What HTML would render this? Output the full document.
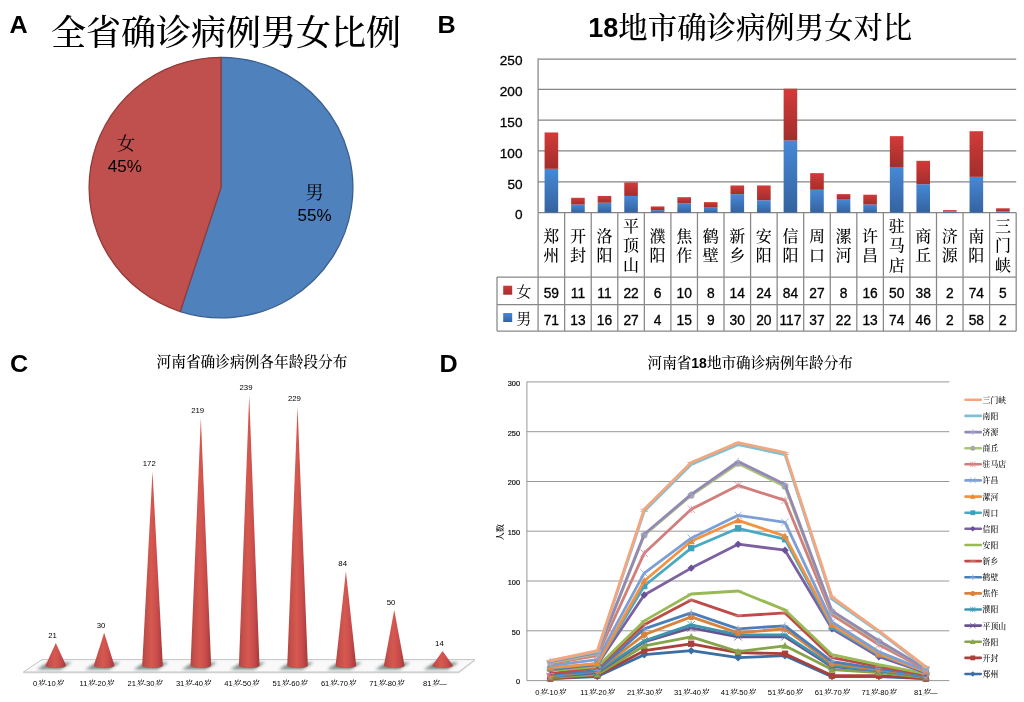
<!DOCTYPE html>
<html lang="zh"><head><meta charset="utf-8"><title>河南省确诊病例统计</title>
<style>
html,body{margin:0;padding:0;background:#fff;}
body{width:1024px;height:702px;overflow:hidden;}
svg{display:block;}
text{font-family:"Liberation Sans","Noto Serif CJK SC",serif;fill:#000;}
.ss{font-family:"Liberation Sans","Noto Sans CJK SC",sans-serif;}
.lbl{font-family:"Liberation Sans",sans-serif;font-weight:bold;font-size:23.5px;}
.num{font-family:"Liberation Sans",sans-serif;}
.tb{stroke:#000;stroke-width:0.3px;}
</style></head><body>
<svg width="1024" height="702" viewBox="0 0 1024 702">
<defs>
<linearGradient id="gB" x1="0" x2="0" y1="0" y2="1"><stop offset="0" stop-color="#4689d6"/><stop offset="1" stop-color="#35629f"/></linearGradient>
<linearGradient id="gR" x1="0" x2="0" y1="0" y2="1"><stop offset="0" stop-color="#d23b39"/><stop offset="1" stop-color="#a22e2c"/></linearGradient>
<linearGradient id="gC" x1="0" x2="1" y1="0" y2="0"><stop offset="0" stop-color="#b14441"/><stop offset="0.15" stop-color="#c24e4a"/><stop offset="0.45" stop-color="#d6594f"/><stop offset="0.72" stop-color="#c94c4c"/><stop offset="1" stop-color="#a33b3a"/></linearGradient>
<radialGradient id="gS"><stop offset="0" stop-color="#7a7a7a" stop-opacity="0.75"/><stop offset="0.6" stop-color="#9a9a9a" stop-opacity="0.45"/><stop offset="1" stop-color="#cccccc" stop-opacity="0"/></radialGradient>
<filter id="blurS" x="-30%" y="-60%" width="160%" height="220%"><feGaussianBlur stdDeviation="1.4"/></filter>
<filter id="blur1" x="-20%" y="-20%" width="140%" height="140%"><feGaussianBlur stdDeviation="0.5"/></filter>
</defs>
<rect width="1024" height="702" fill="#fff"/>

<g id="panelA">
<text class="lbl" x="9.6" y="32.6" textLength="18.2" lengthAdjust="spacingAndGlyphs">A</text>
<text x="51" y="44.5" font-size="35px" font-weight="500">全省确诊病例男女比例</text>
<path d="M221,187.6 L221,57.29999999999998 A131.9,130.3 0 1 1 180.24,311.52 Z" fill="#4f81bd" stroke="#3a5f8f" stroke-width="1.3" stroke-linejoin="round"/>
<path d="M221,187.6 L180.24,311.52 A131.9,130.3 0 0 1 221,57.29999999999998 Z" fill="#c0504d" stroke="#933b39" stroke-width="1.3" stroke-linejoin="round"/>
<text x="126" y="149.8" font-size="18.5px" text-anchor="middle">女</text>
<text class="num" x="107.8" y="171.6" font-size="16px" textLength="34" lengthAdjust="spacingAndGlyphs">45%</text>
<text x="314.6" y="198.9" font-size="18.5px" text-anchor="middle">男</text>
<text class="num" x="297.6" y="221.4" font-size="16px" textLength="34" lengthAdjust="spacingAndGlyphs">55%</text>
</g>
<g id="panelB">
<text class="lbl" x="437.6" y="33.1" textLength="18.2" lengthAdjust="spacingAndGlyphs">B</text>
<text x="750.3" y="37.9" font-size="29.4px" text-anchor="middle" font-weight="500"><tspan class="num" font-weight="bold" font-size="27px" dy="-1.2">18</tspan><tspan dy="1.2">地市</tspan>确诊病例男女对比</text>
<line x1="538.1" x2="1016.2" y1="212.6" y2="212.6" stroke="#858585" stroke-width="1.25"/>
<text class="num tb" x="522.5" y="219.4" font-size="13.6px" text-anchor="end">0</text>
<line x1="538.1" x2="1016.2" y1="181.8" y2="181.8" stroke="#858585" stroke-width="1.25"/>
<text class="num tb" x="522.5" y="188.6" font-size="13.6px" text-anchor="end">50</text>
<line x1="538.1" x2="1016.2" y1="150.9" y2="150.9" stroke="#858585" stroke-width="1.25"/>
<text class="num tb" x="522.5" y="157.8" font-size="13.6px" text-anchor="end">100</text>
<line x1="538.1" x2="1016.2" y1="120.1" y2="120.1" stroke="#858585" stroke-width="1.25"/>
<text class="num tb" x="522.5" y="126.9" font-size="13.6px" text-anchor="end">150</text>
<line x1="538.1" x2="1016.2" y1="89.3" y2="89.3" stroke="#858585" stroke-width="1.25"/>
<text class="num tb" x="522.5" y="96.1" font-size="13.6px" text-anchor="end">200</text>
<line x1="538.1" x2="1016.2" y1="59.1" y2="59.1" stroke="#858585" stroke-width="1.25"/>
<text class="num tb" x="522.5" y="65.3" font-size="13.6px" text-anchor="end">250</text>
<line x1="538.1" x2="538.1" y1="58.5" y2="212.6" stroke="#858585" stroke-width="1.25"/>
<rect x="544.58" y="168.83" width="13.6" height="43.77" fill="url(#gB)"/>
<rect x="544.58" y="132.45" width="13.6" height="36.37" fill="url(#gR)"/>
<rect x="571.14" y="204.59" width="13.6" height="8.01" fill="url(#gB)"/>
<rect x="571.14" y="197.80" width="13.6" height="6.78" fill="url(#gR)"/>
<rect x="597.70" y="202.74" width="13.6" height="9.86" fill="url(#gB)"/>
<rect x="597.70" y="195.95" width="13.6" height="6.78" fill="url(#gR)"/>
<rect x="624.26" y="195.95" width="13.6" height="16.65" fill="url(#gB)"/>
<rect x="624.26" y="182.39" width="13.6" height="13.56" fill="url(#gR)"/>
<rect x="650.82" y="210.13" width="13.6" height="2.47" fill="url(#gB)"/>
<rect x="650.82" y="206.43" width="13.6" height="3.70" fill="url(#gR)"/>
<rect x="677.38" y="203.35" width="13.6" height="9.25" fill="url(#gB)"/>
<rect x="677.38" y="197.19" width="13.6" height="6.17" fill="url(#gR)"/>
<rect x="703.94" y="207.05" width="13.6" height="5.55" fill="url(#gB)"/>
<rect x="703.94" y="202.12" width="13.6" height="4.93" fill="url(#gR)"/>
<rect x="730.50" y="194.10" width="13.6" height="18.50" fill="url(#gB)"/>
<rect x="730.50" y="185.47" width="13.6" height="8.63" fill="url(#gR)"/>
<rect x="757.06" y="200.27" width="13.6" height="12.33" fill="url(#gB)"/>
<rect x="757.06" y="185.47" width="13.6" height="14.80" fill="url(#gR)"/>
<rect x="783.62" y="140.47" width="13.6" height="72.13" fill="url(#gB)"/>
<rect x="783.62" y="88.68" width="13.6" height="51.79" fill="url(#gR)"/>
<rect x="810.18" y="189.79" width="13.6" height="22.81" fill="url(#gB)"/>
<rect x="810.18" y="173.14" width="13.6" height="16.65" fill="url(#gR)"/>
<rect x="836.74" y="199.04" width="13.6" height="13.56" fill="url(#gB)"/>
<rect x="836.74" y="194.11" width="13.6" height="4.93" fill="url(#gR)"/>
<rect x="863.30" y="204.59" width="13.6" height="8.01" fill="url(#gB)"/>
<rect x="863.30" y="194.72" width="13.6" height="9.86" fill="url(#gR)"/>
<rect x="889.86" y="166.98" width="13.6" height="45.62" fill="url(#gB)"/>
<rect x="889.86" y="136.15" width="13.6" height="30.83" fill="url(#gR)"/>
<rect x="916.42" y="184.24" width="13.6" height="28.36" fill="url(#gB)"/>
<rect x="916.42" y="160.81" width="13.6" height="23.43" fill="url(#gR)"/>
<rect x="942.98" y="211.37" width="13.6" height="1.23" fill="url(#gB)"/>
<rect x="942.98" y="210.13" width="13.6" height="1.23" fill="url(#gR)"/>
<rect x="969.54" y="176.84" width="13.6" height="35.76" fill="url(#gB)"/>
<rect x="969.54" y="131.22" width="13.6" height="45.62" fill="url(#gR)"/>
<rect x="996.10" y="211.37" width="13.6" height="1.23" fill="url(#gB)"/>
<rect x="996.10" y="208.28" width="13.6" height="3.08" fill="url(#gR)"/>
<line x1="538.10" x2="538.10" y1="212.6" y2="331.1" stroke="#878787" stroke-width="1.25"/>
<line x1="564.66" x2="564.66" y1="212.6" y2="331.1" stroke="#878787" stroke-width="1.25"/>
<line x1="591.22" x2="591.22" y1="212.6" y2="331.1" stroke="#878787" stroke-width="1.25"/>
<line x1="617.78" x2="617.78" y1="212.6" y2="331.1" stroke="#878787" stroke-width="1.25"/>
<line x1="644.34" x2="644.34" y1="212.6" y2="331.1" stroke="#878787" stroke-width="1.25"/>
<line x1="670.90" x2="670.90" y1="212.6" y2="331.1" stroke="#878787" stroke-width="1.25"/>
<line x1="697.46" x2="697.46" y1="212.6" y2="331.1" stroke="#878787" stroke-width="1.25"/>
<line x1="724.02" x2="724.02" y1="212.6" y2="331.1" stroke="#878787" stroke-width="1.25"/>
<line x1="750.58" x2="750.58" y1="212.6" y2="331.1" stroke="#878787" stroke-width="1.25"/>
<line x1="777.14" x2="777.14" y1="212.6" y2="331.1" stroke="#878787" stroke-width="1.25"/>
<line x1="803.70" x2="803.70" y1="212.6" y2="331.1" stroke="#878787" stroke-width="1.25"/>
<line x1="830.26" x2="830.26" y1="212.6" y2="331.1" stroke="#878787" stroke-width="1.25"/>
<line x1="856.82" x2="856.82" y1="212.6" y2="331.1" stroke="#878787" stroke-width="1.25"/>
<line x1="883.38" x2="883.38" y1="212.6" y2="331.1" stroke="#878787" stroke-width="1.25"/>
<line x1="909.94" x2="909.94" y1="212.6" y2="331.1" stroke="#878787" stroke-width="1.25"/>
<line x1="936.50" x2="936.50" y1="212.6" y2="331.1" stroke="#878787" stroke-width="1.25"/>
<line x1="963.06" x2="963.06" y1="212.6" y2="331.1" stroke="#878787" stroke-width="1.25"/>
<line x1="989.62" x2="989.62" y1="212.6" y2="331.1" stroke="#878787" stroke-width="1.25"/>
<line x1="1016.18" x2="1016.18" y1="212.6" y2="331.1" stroke="#878787" stroke-width="1.25"/>
<line x1="497.0" x2="497.0" y1="277.0" y2="331.1" stroke="#878787" stroke-width="1.25"/>
<line x1="497.0" x2="1016.2" y1="277.0" y2="277.0" stroke="#878787" stroke-width="1.25"/>
<line x1="497.0" x2="1016.2" y1="304.7" y2="304.7" stroke="#878787" stroke-width="1.25"/>
<line x1="497.0" x2="1016.2" y1="331.1" y2="331.1" stroke="#878787" stroke-width="1.25"/>
<text x="551.38" y="241.5" font-size="16px" font-weight="500" text-anchor="middle">郑</text>
<text x="551.38" y="261.0" font-size="16px" font-weight="500" text-anchor="middle">州</text>
<text class="num tb" x="551.38" y="297.5" font-size="13.8px" text-anchor="middle">59</text>
<text class="num tb" x="551.38" y="324.5" font-size="13.8px" text-anchor="middle">71</text>
<text x="577.94" y="241.5" font-size="16px" font-weight="500" text-anchor="middle">开</text>
<text x="577.94" y="261.0" font-size="16px" font-weight="500" text-anchor="middle">封</text>
<text class="num tb" x="577.94" y="297.5" font-size="13.8px" text-anchor="middle">11</text>
<text class="num tb" x="577.94" y="324.5" font-size="13.8px" text-anchor="middle">13</text>
<text x="604.50" y="241.5" font-size="16px" font-weight="500" text-anchor="middle">洛</text>
<text x="604.50" y="261.0" font-size="16px" font-weight="500" text-anchor="middle">阳</text>
<text class="num tb" x="604.50" y="297.5" font-size="13.8px" text-anchor="middle">11</text>
<text class="num tb" x="604.50" y="324.5" font-size="13.8px" text-anchor="middle">16</text>
<text x="631.06" y="231.7" font-size="16px" font-weight="500" text-anchor="middle">平</text>
<text x="631.06" y="251.2" font-size="16px" font-weight="500" text-anchor="middle">顶</text>
<text x="631.06" y="270.7" font-size="16px" font-weight="500" text-anchor="middle">山</text>
<text class="num tb" x="631.06" y="297.5" font-size="13.8px" text-anchor="middle">22</text>
<text class="num tb" x="631.06" y="324.5" font-size="13.8px" text-anchor="middle">27</text>
<text x="657.62" y="241.5" font-size="16px" font-weight="500" text-anchor="middle">濮</text>
<text x="657.62" y="261.0" font-size="16px" font-weight="500" text-anchor="middle">阳</text>
<text class="num tb" x="657.62" y="297.5" font-size="13.8px" text-anchor="middle">6</text>
<text class="num tb" x="657.62" y="324.5" font-size="13.8px" text-anchor="middle">4</text>
<text x="684.18" y="241.5" font-size="16px" font-weight="500" text-anchor="middle">焦</text>
<text x="684.18" y="261.0" font-size="16px" font-weight="500" text-anchor="middle">作</text>
<text class="num tb" x="684.18" y="297.5" font-size="13.8px" text-anchor="middle">10</text>
<text class="num tb" x="684.18" y="324.5" font-size="13.8px" text-anchor="middle">15</text>
<text x="710.74" y="241.5" font-size="16px" font-weight="500" text-anchor="middle">鹤</text>
<text x="710.74" y="261.0" font-size="16px" font-weight="500" text-anchor="middle">壁</text>
<text class="num tb" x="710.74" y="297.5" font-size="13.8px" text-anchor="middle">8</text>
<text class="num tb" x="710.74" y="324.5" font-size="13.8px" text-anchor="middle">9</text>
<text x="737.30" y="241.5" font-size="16px" font-weight="500" text-anchor="middle">新</text>
<text x="737.30" y="261.0" font-size="16px" font-weight="500" text-anchor="middle">乡</text>
<text class="num tb" x="737.30" y="297.5" font-size="13.8px" text-anchor="middle">14</text>
<text class="num tb" x="737.30" y="324.5" font-size="13.8px" text-anchor="middle">30</text>
<text x="763.86" y="241.5" font-size="16px" font-weight="500" text-anchor="middle">安</text>
<text x="763.86" y="261.0" font-size="16px" font-weight="500" text-anchor="middle">阳</text>
<text class="num tb" x="763.86" y="297.5" font-size="13.8px" text-anchor="middle">24</text>
<text class="num tb" x="763.86" y="324.5" font-size="13.8px" text-anchor="middle">20</text>
<text x="790.42" y="241.5" font-size="16px" font-weight="500" text-anchor="middle">信</text>
<text x="790.42" y="261.0" font-size="16px" font-weight="500" text-anchor="middle">阳</text>
<text class="num tb" x="790.42" y="297.5" font-size="13.8px" text-anchor="middle">84</text>
<text class="num tb" x="790.42" y="324.5" font-size="13.8px" text-anchor="middle">117</text>
<text x="816.98" y="241.5" font-size="16px" font-weight="500" text-anchor="middle">周</text>
<text x="816.98" y="261.0" font-size="16px" font-weight="500" text-anchor="middle">口</text>
<text class="num tb" x="816.98" y="297.5" font-size="13.8px" text-anchor="middle">27</text>
<text class="num tb" x="816.98" y="324.5" font-size="13.8px" text-anchor="middle">37</text>
<text x="843.54" y="241.5" font-size="16px" font-weight="500" text-anchor="middle">漯</text>
<text x="843.54" y="261.0" font-size="16px" font-weight="500" text-anchor="middle">河</text>
<text class="num tb" x="843.54" y="297.5" font-size="13.8px" text-anchor="middle">8</text>
<text class="num tb" x="843.54" y="324.5" font-size="13.8px" text-anchor="middle">22</text>
<text x="870.10" y="241.5" font-size="16px" font-weight="500" text-anchor="middle">许</text>
<text x="870.10" y="261.0" font-size="16px" font-weight="500" text-anchor="middle">昌</text>
<text class="num tb" x="870.10" y="297.5" font-size="13.8px" text-anchor="middle">16</text>
<text class="num tb" x="870.10" y="324.5" font-size="13.8px" text-anchor="middle">13</text>
<text x="896.66" y="231.7" font-size="16px" font-weight="500" text-anchor="middle">驻</text>
<text x="896.66" y="251.2" font-size="16px" font-weight="500" text-anchor="middle">马</text>
<text x="896.66" y="270.7" font-size="16px" font-weight="500" text-anchor="middle">店</text>
<text class="num tb" x="896.66" y="297.5" font-size="13.8px" text-anchor="middle">50</text>
<text class="num tb" x="896.66" y="324.5" font-size="13.8px" text-anchor="middle">74</text>
<text x="923.22" y="241.5" font-size="16px" font-weight="500" text-anchor="middle">商</text>
<text x="923.22" y="261.0" font-size="16px" font-weight="500" text-anchor="middle">丘</text>
<text class="num tb" x="923.22" y="297.5" font-size="13.8px" text-anchor="middle">38</text>
<text class="num tb" x="923.22" y="324.5" font-size="13.8px" text-anchor="middle">46</text>
<text x="949.78" y="241.5" font-size="16px" font-weight="500" text-anchor="middle">济</text>
<text x="949.78" y="261.0" font-size="16px" font-weight="500" text-anchor="middle">源</text>
<text class="num tb" x="949.78" y="297.5" font-size="13.8px" text-anchor="middle">2</text>
<text class="num tb" x="949.78" y="324.5" font-size="13.8px" text-anchor="middle">2</text>
<text x="976.34" y="241.5" font-size="16px" font-weight="500" text-anchor="middle">南</text>
<text x="976.34" y="261.0" font-size="16px" font-weight="500" text-anchor="middle">阳</text>
<text class="num tb" x="976.34" y="297.5" font-size="13.8px" text-anchor="middle">74</text>
<text class="num tb" x="976.34" y="324.5" font-size="13.8px" text-anchor="middle">58</text>
<text x="1002.90" y="231.7" font-size="16px" font-weight="500" text-anchor="middle">三</text>
<text x="1002.90" y="251.2" font-size="16px" font-weight="500" text-anchor="middle">门</text>
<text x="1002.90" y="270.7" font-size="16px" font-weight="500" text-anchor="middle">峡</text>
<text class="num tb" x="1002.90" y="297.5" font-size="13.8px" text-anchor="middle">5</text>
<text class="num tb" x="1002.90" y="324.5" font-size="13.8px" text-anchor="middle">2</text>
<rect x="503.2" y="285.7" width="9" height="9" fill="url(#gR)"/>
<text x="523.7" y="297.3" font-size="15px" text-anchor="middle">女</text>
<rect x="503.2" y="313" width="9" height="9" fill="url(#gB)"/>
<text x="523.7" y="324" font-size="15px" text-anchor="middle">男</text>
</g>
<g id="panelC">
<text class="lbl" x="10" y="371.8" textLength="18.2" lengthAdjust="spacingAndGlyphs">C</text>
<text x="252" y="367" font-size="14.7px" text-anchor="middle" font-weight="500">河南省确诊病例各年龄段分布</text>
<polygon points="42,659.6 475,659.6 458.6,672 23.4,672" fill="#f9f9f9" stroke="#c4c4c4" stroke-width="1"/>
<polygon points="23.4,672 458.6,672 475,659.6 475,660.8 458.9,673.2 23.4,673.2" fill="#d0d0d0"/>
<polygon points="36.8,669.6 60.8,669.6 71.8,662.6 47.8,662.6" fill="#5f7070" opacity="0.8" filter="url(#blurS)"/>
<polygon points="85.2,669.6 109.2,669.6 120.2,662.6 96.2,662.6" fill="#5f7070" opacity="0.8" filter="url(#blurS)"/>
<polygon points="133.5,669.6 157.5,669.6 168.5,662.6 144.5,662.6" fill="#5f7070" opacity="0.8" filter="url(#blurS)"/>
<polygon points="181.9,669.6 205.9,669.6 216.9,662.6 192.9,662.6" fill="#5f7070" opacity="0.8" filter="url(#blurS)"/>
<polygon points="230.2,669.6 254.2,669.6 265.2,662.6 241.2,662.6" fill="#5f7070" opacity="0.8" filter="url(#blurS)"/>
<polygon points="278.6,669.6 302.6,669.6 313.6,662.6 289.6,662.6" fill="#5f7070" opacity="0.8" filter="url(#blurS)"/>
<polygon points="326.9,669.6 350.9,669.6 361.9,662.6 337.9,662.6" fill="#5f7070" opacity="0.8" filter="url(#blurS)"/>
<polygon points="375.2,669.6 399.2,669.6 410.2,662.6 386.2,662.6" fill="#5f7070" opacity="0.8" filter="url(#blurS)"/>
<polygon points="423.6,669.6 447.6,669.6 458.6,662.6 434.6,662.6" fill="#5f7070" opacity="0.8" filter="url(#blurS)"/>
<path d="M45.50,665.6 L55.80,642.9 L66.10,665.6 A10.3,2.6 0 0 1 45.50,665.6 Z" fill="url(#gC)"/>
<text class="num" x="52.6" y="637.8" font-size="7.8px" text-anchor="middle">21</text>
<text x="48.1" y="685.9" font-size="7.6px" text-anchor="middle">0<tspan font-style="italic" font-weight="600">岁</tspan>-10<tspan font-style="italic" font-weight="600">岁</tspan></text>
<path d="M93.85,665.6 L104.15,632.7 L114.45,665.6 A10.3,2.6 0 0 1 93.85,665.6 Z" fill="url(#gC)"/>
<text class="num" x="101.0" y="627.6" font-size="7.8px" text-anchor="middle">30</text>
<text x="96.5" y="685.9" font-size="7.6px" text-anchor="middle">11<tspan font-style="italic" font-weight="600">岁</tspan>-20<tspan font-style="italic" font-weight="600">岁</tspan></text>
<path d="M142.20,665.6 L152.50,471.2 L162.80,665.6 A10.3,2.6 0 0 1 142.20,665.6 Z" fill="url(#gC)"/>
<text class="num" x="149.3" y="466.1" font-size="7.8px" text-anchor="middle">172</text>
<text x="144.8" y="685.9" font-size="7.6px" text-anchor="middle">21<tspan font-style="italic" font-weight="600">岁</tspan>-30<tspan font-style="italic" font-weight="600">岁</tspan></text>
<path d="M190.55,665.6 L200.85,417.8 L211.15,665.6 A10.3,2.6 0 0 1 190.55,665.6 Z" fill="url(#gC)"/>
<text class="num" x="197.7" y="412.7" font-size="7.8px" text-anchor="middle">219</text>
<text x="193.2" y="685.9" font-size="7.6px" text-anchor="middle">31<tspan font-style="italic" font-weight="600">岁</tspan>-40<tspan font-style="italic" font-weight="600">岁</tspan></text>
<path d="M238.90,665.6 L249.20,395.1 L259.50,665.6 A10.3,2.6 0 0 1 238.90,665.6 Z" fill="url(#gC)"/>
<text class="num" x="246.0" y="390.0" font-size="7.8px" text-anchor="middle">239</text>
<text x="241.5" y="685.9" font-size="7.6px" text-anchor="middle">41<tspan font-style="italic" font-weight="600">岁</tspan>-50<tspan font-style="italic" font-weight="600">岁</tspan></text>
<path d="M287.25,665.6 L297.55,406.4 L307.85,665.6 A10.3,2.6 0 0 1 287.25,665.6 Z" fill="url(#gC)"/>
<text class="num" x="294.4" y="401.3" font-size="7.8px" text-anchor="middle">229</text>
<text x="289.9" y="685.9" font-size="7.6px" text-anchor="middle">51<tspan font-style="italic" font-weight="600">岁</tspan>-60<tspan font-style="italic" font-weight="600">岁</tspan></text>
<path d="M335.60,665.6 L345.90,571.3 L356.20,665.6 A10.3,2.6 0 0 1 335.60,665.6 Z" fill="url(#gC)"/>
<text class="num" x="342.7" y="566.2" font-size="7.8px" text-anchor="middle">84</text>
<text x="338.2" y="685.9" font-size="7.6px" text-anchor="middle">61<tspan font-style="italic" font-weight="600">岁</tspan>-70<tspan font-style="italic" font-weight="600">岁</tspan></text>
<path d="M383.95,665.6 L394.25,609.9 L404.55,665.6 A10.3,2.6 0 0 1 383.95,665.6 Z" fill="url(#gC)"/>
<text class="num" x="391.1" y="604.8" font-size="7.8px" text-anchor="middle">50</text>
<text x="386.6" y="685.9" font-size="7.6px" text-anchor="middle">71<tspan font-style="italic" font-weight="600">岁</tspan>-80<tspan font-style="italic" font-weight="600">岁</tspan></text>
<path d="M432.30,665.6 L442.60,650.9 L452.90,665.6 A10.3,2.6 0 0 1 432.30,665.6 Z" fill="url(#gC)"/>
<text class="num" x="439.4" y="645.8" font-size="7.8px" text-anchor="middle">14</text>
<text x="434.9" y="685.9" font-size="7.6px" text-anchor="middle">81<tspan font-style="italic" font-weight="600">岁</tspan>—</text>
</g>
<g id="panelD">
<text class="lbl" x="439.6" y="372" textLength="18.2" lengthAdjust="spacingAndGlyphs">D</text>
<text x="750.2" y="367.6" font-size="14.6px" text-anchor="middle" font-weight="500">河南省<tspan class="num" font-weight="bold" font-size="14px">18</tspan>地市确诊病例年龄分布</text>
<line x1="526.9" x2="949.3" y1="680.6" y2="680.6" stroke="#8c8c8c" stroke-width="0.9"/>
<text class="num" x="520" y="684.4" font-size="7.4px" text-anchor="end" stroke="#000" stroke-width="0.15">0</text>
<line x1="526.9" x2="949.3" y1="630.8" y2="630.8" stroke="#8c8c8c" stroke-width="0.9"/>
<text class="num" x="520" y="634.6" font-size="7.4px" text-anchor="end" stroke="#000" stroke-width="0.15">50</text>
<line x1="526.9" x2="949.3" y1="581.0" y2="581.0" stroke="#8c8c8c" stroke-width="0.9"/>
<text class="num" x="520" y="584.8" font-size="7.4px" text-anchor="end" stroke="#000" stroke-width="0.15">100</text>
<line x1="526.9" x2="949.3" y1="531.2" y2="531.2" stroke="#8c8c8c" stroke-width="0.9"/>
<text class="num" x="520" y="535.0" font-size="7.4px" text-anchor="end" stroke="#000" stroke-width="0.15">150</text>
<line x1="526.9" x2="949.3" y1="481.5" y2="481.5" stroke="#8c8c8c" stroke-width="0.9"/>
<text class="num" x="520" y="485.3" font-size="7.4px" text-anchor="end" stroke="#000" stroke-width="0.15">200</text>
<line x1="526.9" x2="949.3" y1="431.7" y2="431.7" stroke="#8c8c8c" stroke-width="0.9"/>
<text class="num" x="520" y="435.5" font-size="7.4px" text-anchor="end" stroke="#000" stroke-width="0.15">250</text>
<line x1="526.9" x2="949.3" y1="381.9" y2="381.9" stroke="#8c8c8c" stroke-width="0.9"/>
<text class="num" x="520" y="385.7" font-size="7.4px" text-anchor="end" stroke="#000" stroke-width="0.15">300</text>
<line x1="526.9" x2="526.9" y1="381.9" y2="680.6" stroke="#8c8c8c" stroke-width="0.9"/>
<text x="0" y="0" font-size="8.2px" font-weight="600" text-anchor="middle" transform="translate(502.7,532.2) rotate(-90)">人数</text>
<polyline points="550.4,678.6 597.3,676.6 644.2,654.7 691.2,650.7 738.1,657.7 785.0,655.7 832.0,676.6 878.9,676.6 925.8,678.6" fill="none" stroke="#3a6ea5" stroke-width="2.8" stroke-linejoin="round" stroke-linecap="round"/>
<path d="M550.4,674.9 L554.1,678.6 L550.4,682.3 L546.7,678.6Z" fill="#3a6ea5"/>
<path d="M597.3,672.9 L601.0,676.6 L597.3,680.3 L593.6,676.6Z" fill="#3a6ea5"/>
<path d="M644.2,651.0 L647.9,654.7 L644.2,658.4 L640.5,654.7Z" fill="#3a6ea5"/>
<path d="M691.2,647.0 L694.9,650.7 L691.2,654.4 L687.5,650.7Z" fill="#3a6ea5"/>
<path d="M738.1,654.0 L741.8,657.7 L738.1,661.4 L734.4,657.7Z" fill="#3a6ea5"/>
<path d="M785.0,652.0 L788.7,655.7 L785.0,659.4 L781.3,655.7Z" fill="#3a6ea5"/>
<path d="M832.0,672.9 L835.7,676.6 L832.0,680.3 L828.3,676.6Z" fill="#3a6ea5"/>
<path d="M878.9,672.9 L882.6,676.6 L878.9,680.3 L875.2,676.6Z" fill="#3a6ea5"/>
<path d="M925.8,674.9 L929.5,678.6 L925.8,682.3 L922.1,678.6Z" fill="#3a6ea5"/>
<polyline points="550.4,678.6 597.3,675.6 644.2,650.7 691.2,643.8 738.1,652.7 785.0,653.7 832.0,675.6 878.9,675.6 925.8,678.6" fill="none" stroke="#aa3f3c" stroke-width="2.8" stroke-linejoin="round" stroke-linecap="round"/>
<rect x="547.2" y="675.5" width="6.3" height="6.3" fill="#aa3f3c"/>
<rect x="594.2" y="672.5" width="6.3" height="6.3" fill="#aa3f3c"/>
<rect x="641.1" y="647.6" width="6.3" height="6.3" fill="#aa3f3c"/>
<rect x="688.0" y="640.6" width="6.3" height="6.3" fill="#aa3f3c"/>
<rect x="735.0" y="649.6" width="6.3" height="6.3" fill="#aa3f3c"/>
<rect x="781.9" y="650.6" width="6.3" height="6.3" fill="#aa3f3c"/>
<rect x="828.8" y="672.5" width="6.3" height="6.3" fill="#aa3f3c"/>
<rect x="875.8" y="672.5" width="6.3" height="6.3" fill="#aa3f3c"/>
<rect x="922.7" y="675.5" width="6.3" height="6.3" fill="#aa3f3c"/>
<polyline points="550.4,677.6 597.3,674.6 644.2,645.8 691.2,636.8 738.1,651.7 785.0,645.8 832.0,669.6 878.9,672.6 925.8,677.6" fill="none" stroke="#86a44a" stroke-width="2.8" stroke-linejoin="round" stroke-linecap="round"/>
<path d="M550.4,673.9 L554.1,680.6 L546.7,680.6Z" fill="#86a44a"/>
<path d="M597.3,670.9 L601.0,677.6 L593.6,677.6Z" fill="#86a44a"/>
<path d="M644.2,642.1 L647.9,648.7 L640.5,648.7Z" fill="#86a44a"/>
<path d="M691.2,633.1 L694.9,639.7 L687.5,639.7Z" fill="#86a44a"/>
<path d="M738.1,648.0 L741.8,654.7 L734.4,654.7Z" fill="#86a44a"/>
<path d="M785.0,642.1 L788.7,648.7 L781.3,648.7Z" fill="#86a44a"/>
<path d="M832.0,665.9 L835.7,672.6 L828.3,672.6Z" fill="#86a44a"/>
<path d="M878.9,668.9 L882.6,675.6 L875.2,675.6Z" fill="#86a44a"/>
<path d="M925.8,673.9 L929.5,680.6 L922.1,680.6Z" fill="#86a44a"/>
<polyline points="550.4,676.6 597.3,672.6 644.2,641.8 691.2,627.8 738.1,636.8 785.0,636.8 832.0,666.7 878.9,670.6 925.8,676.6" fill="none" stroke="#6a5190" stroke-width="2.8" stroke-linejoin="round" stroke-linecap="round"/>
<path d="M546.7,672.9 L554.1,680.3 M554.1,672.9 L546.7,680.3" stroke="#6a5190" stroke-width="0.8" fill="none"/>
<path d="M593.6,668.9 L601.0,676.3 M601.0,668.9 L593.6,676.3" stroke="#6a5190" stroke-width="0.8" fill="none"/>
<path d="M640.5,638.1 L647.9,645.5 M647.9,638.1 L640.5,645.5" stroke="#6a5190" stroke-width="0.8" fill="none"/>
<path d="M687.5,624.1 L694.9,631.5 M694.9,624.1 L687.5,631.5" stroke="#6a5190" stroke-width="0.8" fill="none"/>
<path d="M734.4,633.1 L741.8,640.5 M741.8,633.1 L734.4,640.5" stroke="#6a5190" stroke-width="0.8" fill="none"/>
<path d="M781.3,633.1 L788.7,640.5 M788.7,633.1 L781.3,640.5" stroke="#6a5190" stroke-width="0.8" fill="none"/>
<path d="M828.3,663.0 L835.7,670.4 M835.7,663.0 L828.3,670.4" stroke="#6a5190" stroke-width="0.8" fill="none"/>
<path d="M875.2,666.9 L882.6,674.3 M882.6,666.9 L875.2,674.3" stroke="#6a5190" stroke-width="0.8" fill="none"/>
<path d="M922.1,672.9 L929.5,680.3 M929.5,672.9 L922.1,680.3" stroke="#6a5190" stroke-width="0.8" fill="none"/>
<polyline points="550.4,676.6 597.3,671.6 644.2,640.8 691.2,624.8 738.1,634.8 785.0,634.8 832.0,665.7 878.9,670.6 925.8,676.6" fill="none" stroke="#3c95ae" stroke-width="2.8" stroke-linejoin="round" stroke-linecap="round"/>
<path d="M546.7,672.9 L554.1,680.3 M554.1,672.9 L546.7,680.3 M550.4,672.9 L550.4,680.3" stroke="#3c95ae" stroke-width="0.8" fill="none"/>
<path d="M593.6,667.9 L601.0,675.3 M601.0,667.9 L593.6,675.3 M597.3,667.9 L597.3,675.3" stroke="#3c95ae" stroke-width="0.8" fill="none"/>
<path d="M640.5,637.1 L647.9,644.5 M647.9,637.1 L640.5,644.5 M644.2,637.1 L644.2,644.5" stroke="#3c95ae" stroke-width="0.8" fill="none"/>
<path d="M687.5,621.1 L694.9,628.5 M694.9,621.1 L687.5,628.5 M691.2,621.1 L691.2,628.5" stroke="#3c95ae" stroke-width="0.8" fill="none"/>
<path d="M734.4,631.1 L741.8,638.5 M741.8,631.1 L734.4,638.5 M738.1,631.1 L738.1,638.5" stroke="#3c95ae" stroke-width="0.8" fill="none"/>
<path d="M781.3,631.1 L788.7,638.5 M788.7,631.1 L781.3,638.5 M785.0,631.1 L785.0,638.5" stroke="#3c95ae" stroke-width="0.8" fill="none"/>
<path d="M828.3,662.0 L835.7,669.4 M835.7,662.0 L828.3,669.4 M832.0,662.0 L832.0,669.4" stroke="#3c95ae" stroke-width="0.8" fill="none"/>
<path d="M875.2,666.9 L882.6,674.3 M882.6,666.9 L875.2,674.3 M878.9,666.9 L878.9,674.3" stroke="#3c95ae" stroke-width="0.8" fill="none"/>
<path d="M922.1,672.9 L929.5,680.3 M929.5,672.9 L922.1,680.3 M925.8,672.9 L925.8,680.3" stroke="#3c95ae" stroke-width="0.8" fill="none"/>
<polyline points="550.4,675.6 597.3,670.6 644.2,634.8 691.2,616.9 738.1,632.8 785.0,628.8 832.0,663.7 878.9,669.6 925.8,675.6" fill="none" stroke="#d9823b" stroke-width="2.8" stroke-linejoin="round" stroke-linecap="round"/>
<circle cx="550.4" cy="675.6" r="3.3" fill="#d9823b"/>
<circle cx="597.3" cy="670.6" r="3.3" fill="#d9823b"/>
<circle cx="644.2" cy="634.8" r="3.3" fill="#d9823b"/>
<circle cx="691.2" cy="616.9" r="3.3" fill="#d9823b"/>
<circle cx="738.1" cy="632.8" r="3.3" fill="#d9823b"/>
<circle cx="785.0" cy="628.8" r="3.3" fill="#d9823b"/>
<circle cx="832.0" cy="663.7" r="3.3" fill="#d9823b"/>
<circle cx="878.9" cy="669.6" r="3.3" fill="#d9823b"/>
<circle cx="925.8" cy="675.6" r="3.3" fill="#d9823b"/>
<polyline points="550.4,674.6 597.3,670.6 644.2,628.8 691.2,612.9 738.1,628.8 785.0,625.8 832.0,661.7 878.9,668.7 925.8,675.6" fill="none" stroke="#4a7ebb" stroke-width="2.8" stroke-linejoin="round" stroke-linecap="round"/>
<path d="M546.7,674.6 L554.1,674.6 M550.4,670.9 L550.4,678.3" stroke="#8fa6cf" stroke-width="0.8" fill="none"/>
<path d="M593.6,670.6 L601.0,670.6 M597.3,666.9 L597.3,674.3" stroke="#8fa6cf" stroke-width="0.8" fill="none"/>
<path d="M640.5,628.8 L647.9,628.8 M644.2,625.1 L644.2,632.5" stroke="#8fa6cf" stroke-width="0.8" fill="none"/>
<path d="M687.5,612.9 L694.9,612.9 M691.2,609.2 L691.2,616.6" stroke="#8fa6cf" stroke-width="0.8" fill="none"/>
<path d="M734.4,628.8 L741.8,628.8 M738.1,625.1 L738.1,632.5" stroke="#8fa6cf" stroke-width="0.8" fill="none"/>
<path d="M781.3,625.8 L788.7,625.8 M785.0,622.1 L785.0,629.5" stroke="#8fa6cf" stroke-width="0.8" fill="none"/>
<path d="M828.3,661.7 L835.7,661.7 M832.0,658.0 L832.0,665.4" stroke="#8fa6cf" stroke-width="0.8" fill="none"/>
<path d="M875.2,668.7 L882.6,668.7 M878.9,665.0 L878.9,672.4" stroke="#8fa6cf" stroke-width="0.8" fill="none"/>
<path d="M922.1,675.6 L929.5,675.6 M925.8,671.9 L925.8,679.3" stroke="#8fa6cf" stroke-width="0.8" fill="none"/>
<polyline points="550.4,673.6 597.3,667.7 644.2,624.8 691.2,599.9 738.1,615.9 785.0,612.9 832.0,657.7 878.9,666.7 925.8,674.6" fill="none" stroke="#be4b48" stroke-width="2.8" stroke-linejoin="round" stroke-linecap="round"/>
<path d="M546.7,673.6 L554.1,673.6" stroke="#c98a88" stroke-width="1" fill="none"/>
<path d="M593.6,667.7 L601.0,667.7" stroke="#c98a88" stroke-width="1" fill="none"/>
<path d="M640.5,624.8 L647.9,624.8" stroke="#c98a88" stroke-width="1" fill="none"/>
<path d="M687.5,599.9 L694.9,599.9" stroke="#c98a88" stroke-width="1" fill="none"/>
<path d="M734.4,615.9 L741.8,615.9" stroke="#c98a88" stroke-width="1" fill="none"/>
<path d="M781.3,612.9 L788.7,612.9" stroke="#c98a88" stroke-width="1" fill="none"/>
<path d="M828.3,657.7 L835.7,657.7" stroke="#c98a88" stroke-width="1" fill="none"/>
<path d="M875.2,666.7 L882.6,666.7" stroke="#c98a88" stroke-width="1" fill="none"/>
<path d="M922.1,674.6 L929.5,674.6" stroke="#c98a88" stroke-width="1" fill="none"/>
<polyline points="550.4,670.6 597.3,666.7 644.2,620.9 691.2,594.0 738.1,591.0 785.0,609.9 832.0,654.7 878.9,664.7 925.8,673.6" fill="none" stroke="#98b954" stroke-width="2.8" stroke-linejoin="round" stroke-linecap="round"/>
<path d="M546.7,670.6 L554.1,670.6" stroke="#98b954" stroke-width="1" fill="none"/>
<path d="M593.6,666.7 L601.0,666.7" stroke="#98b954" stroke-width="1" fill="none"/>
<path d="M640.5,620.9 L647.9,620.9" stroke="#98b954" stroke-width="1" fill="none"/>
<path d="M687.5,594.0 L694.9,594.0" stroke="#98b954" stroke-width="1" fill="none"/>
<path d="M734.4,591.0 L741.8,591.0" stroke="#98b954" stroke-width="1" fill="none"/>
<path d="M781.3,609.9 L788.7,609.9" stroke="#98b954" stroke-width="1" fill="none"/>
<path d="M828.3,654.7 L835.7,654.7" stroke="#98b954" stroke-width="1" fill="none"/>
<path d="M875.2,664.7 L882.6,664.7" stroke="#98b954" stroke-width="1" fill="none"/>
<path d="M922.1,673.6 L929.5,673.6" stroke="#98b954" stroke-width="1" fill="none"/>
<polyline points="550.4,669.6 597.3,664.7 644.2,595.0 691.2,568.1 738.1,544.2 785.0,550.2 832.0,628.8 878.9,656.7 925.8,672.6" fill="none" stroke="#7d60a0" stroke-width="2.8" stroke-linejoin="round" stroke-linecap="round"/>
<path d="M550.4,665.9 L554.1,669.6 L550.4,673.3 L546.7,669.6Z" fill="#6a4f9a"/>
<path d="M597.3,661.0 L601.0,664.7 L597.3,668.4 L593.6,664.7Z" fill="#6a4f9a"/>
<path d="M644.2,591.3 L647.9,595.0 L644.2,598.7 L640.5,595.0Z" fill="#6a4f9a"/>
<path d="M691.2,564.4 L694.9,568.1 L691.2,571.8 L687.5,568.1Z" fill="#6a4f9a"/>
<path d="M738.1,540.5 L741.8,544.2 L738.1,547.9 L734.4,544.2Z" fill="#6a4f9a"/>
<path d="M785.0,546.5 L788.7,550.2 L785.0,553.9 L781.3,550.2Z" fill="#6a4f9a"/>
<path d="M832.0,625.1 L835.7,628.8 L832.0,632.5 L828.3,628.8Z" fill="#6a4f9a"/>
<path d="M878.9,653.0 L882.6,656.7 L878.9,660.4 L875.2,656.7Z" fill="#6a4f9a"/>
<path d="M925.8,668.9 L929.5,672.6 L925.8,676.3 L922.1,672.6Z" fill="#6a4f9a"/>
<polyline points="550.4,668.7 597.3,663.7 644.2,586.0 691.2,548.2 738.1,528.3 785.0,539.2 832.0,626.8 878.9,654.7 925.8,671.6" fill="none" stroke="#46aac5" stroke-width="2.8" stroke-linejoin="round" stroke-linecap="round"/>
<rect x="547.2" y="665.5" width="6.3" height="6.3" fill="#3fa2bd"/>
<rect x="594.2" y="660.5" width="6.3" height="6.3" fill="#3fa2bd"/>
<rect x="641.1" y="582.9" width="6.3" height="6.3" fill="#3fa2bd"/>
<rect x="688.0" y="545.0" width="6.3" height="6.3" fill="#3fa2bd"/>
<rect x="735.0" y="525.1" width="6.3" height="6.3" fill="#3fa2bd"/>
<rect x="781.9" y="536.1" width="6.3" height="6.3" fill="#3fa2bd"/>
<rect x="828.8" y="623.7" width="6.3" height="6.3" fill="#3fa2bd"/>
<rect x="875.8" y="651.6" width="6.3" height="6.3" fill="#3fa2bd"/>
<rect x="922.7" y="668.5" width="6.3" height="6.3" fill="#3fa2bd"/>
<polyline points="550.4,667.7 597.3,663.7 644.2,581.0 691.2,541.2 738.1,520.3 785.0,536.2 832.0,624.8 878.9,653.7 925.8,671.6" fill="none" stroke="#f59240" stroke-width="2.8" stroke-linejoin="round" stroke-linecap="round"/>
<path d="M550.4,664.0 L554.1,670.6 L546.7,670.6Z" fill="#e58a3a"/>
<path d="M597.3,660.0 L601.0,666.6 L593.6,666.6Z" fill="#e58a3a"/>
<path d="M644.2,577.3 L647.9,584.0 L640.5,584.0Z" fill="#e58a3a"/>
<path d="M691.2,537.5 L694.9,544.2 L687.5,544.2Z" fill="#e58a3a"/>
<path d="M738.1,516.6 L741.8,523.3 L734.4,523.3Z" fill="#e58a3a"/>
<path d="M785.0,532.5 L788.7,539.2 L781.3,539.2Z" fill="#e58a3a"/>
<path d="M832.0,621.1 L835.7,627.8 L828.3,627.8Z" fill="#e58a3a"/>
<path d="M878.9,650.0 L882.6,656.7 L875.2,656.7Z" fill="#e58a3a"/>
<path d="M925.8,667.9 L929.5,674.6 L922.1,674.6Z" fill="#e58a3a"/>
<polyline points="550.4,665.7 597.3,659.7 644.2,573.1 691.2,538.2 738.1,515.3 785.0,522.3 832.0,621.9 878.9,651.7 925.8,670.6" fill="none" stroke="#7c9fd6" stroke-width="2.8" stroke-linejoin="round" stroke-linecap="round"/>
<path d="M546.7,662.0 L554.1,669.4 M554.1,662.0 L546.7,669.4" stroke="#8aa5d6" stroke-width="0.8" fill="none"/>
<path d="M593.6,656.0 L601.0,663.4 M601.0,656.0 L593.6,663.4" stroke="#8aa5d6" stroke-width="0.8" fill="none"/>
<path d="M640.5,569.4 L647.9,576.8 M647.9,569.4 L640.5,576.8" stroke="#8aa5d6" stroke-width="0.8" fill="none"/>
<path d="M687.5,534.5 L694.9,541.9 M694.9,534.5 L687.5,541.9" stroke="#8aa5d6" stroke-width="0.8" fill="none"/>
<path d="M734.4,511.6 L741.8,519.0 M741.8,511.6 L734.4,519.0" stroke="#8aa5d6" stroke-width="0.8" fill="none"/>
<path d="M781.3,518.6 L788.7,526.0 M788.7,518.6 L781.3,526.0" stroke="#8aa5d6" stroke-width="0.8" fill="none"/>
<path d="M828.3,618.2 L835.7,625.6 M835.7,618.2 L828.3,625.6" stroke="#8aa5d6" stroke-width="0.8" fill="none"/>
<path d="M875.2,648.0 L882.6,655.4 M882.6,648.0 L875.2,655.4" stroke="#8aa5d6" stroke-width="0.8" fill="none"/>
<path d="M922.1,666.9 L929.5,674.3 M929.5,666.9 L922.1,674.3" stroke="#8aa5d6" stroke-width="0.8" fill="none"/>
<polyline points="550.4,663.7 597.3,655.7 644.2,553.2 691.2,509.3 738.1,485.4 785.0,500.4 832.0,614.9 878.9,644.8 925.8,669.6" fill="none" stroke="#d17f7d" stroke-width="2.8" stroke-linejoin="round" stroke-linecap="round"/>
<path d="M546.7,660.0 L554.1,667.4 M554.1,660.0 L546.7,667.4 M550.4,660.0 L550.4,667.4" stroke="#d88a94" stroke-width="0.8" fill="none"/>
<path d="M593.6,652.0 L601.0,659.4 M601.0,652.0 L593.6,659.4 M597.3,652.0 L597.3,659.4" stroke="#d88a94" stroke-width="0.8" fill="none"/>
<path d="M640.5,549.5 L647.9,556.9 M647.9,549.5 L640.5,556.9 M644.2,549.5 L644.2,556.9" stroke="#d88a94" stroke-width="0.8" fill="none"/>
<path d="M687.5,505.6 L694.9,513.0 M694.9,505.6 L687.5,513.0 M691.2,505.6 L691.2,513.0" stroke="#d88a94" stroke-width="0.8" fill="none"/>
<path d="M734.4,481.7 L741.8,489.1 M741.8,481.7 L734.4,489.1 M738.1,481.7 L738.1,489.1" stroke="#d88a94" stroke-width="0.8" fill="none"/>
<path d="M781.3,496.7 L788.7,504.1 M788.7,496.7 L781.3,504.1 M785.0,496.7 L785.0,504.1" stroke="#d88a94" stroke-width="0.8" fill="none"/>
<path d="M828.3,611.2 L835.7,618.6 M835.7,611.2 L828.3,618.6 M832.0,611.2 L832.0,618.6" stroke="#d88a94" stroke-width="0.8" fill="none"/>
<path d="M875.2,641.1 L882.6,648.5 M882.6,641.1 L875.2,648.5 M878.9,641.1 L878.9,648.5" stroke="#d88a94" stroke-width="0.8" fill="none"/>
<path d="M922.1,665.9 L929.5,673.3 M929.5,665.9 L922.1,673.3 M925.8,665.9 L925.8,673.3" stroke="#d88a94" stroke-width="0.8" fill="none"/>
<polyline points="550.4,662.7 597.3,653.7 644.2,535.2 691.2,495.4 738.1,463.5 785.0,486.4 832.0,611.9 878.9,641.8 925.8,668.7" fill="none" stroke="#a9c77b" stroke-width="2.8" stroke-linejoin="round" stroke-linecap="round"/>
<circle cx="550.4" cy="662.7" r="3.3" fill="#a9a9a9"/>
<circle cx="597.3" cy="653.7" r="3.3" fill="#a9a9a9"/>
<circle cx="644.2" cy="535.2" r="3.3" fill="#a9a9a9"/>
<circle cx="691.2" cy="495.4" r="3.3" fill="#a9a9a9"/>
<circle cx="738.1" cy="463.5" r="3.3" fill="#a9a9a9"/>
<circle cx="785.0" cy="486.4" r="3.3" fill="#a9a9a9"/>
<circle cx="832.0" cy="611.9" r="3.3" fill="#a9a9a9"/>
<circle cx="878.9" cy="641.8" r="3.3" fill="#a9a9a9"/>
<circle cx="925.8" cy="668.7" r="3.3" fill="#a9a9a9"/>
<polyline points="550.4,661.7 597.3,652.7 644.2,534.2 691.2,494.4 738.1,461.5 785.0,484.4 832.0,610.9 878.9,640.8 925.8,668.7" fill="none" stroke="#9588b5" stroke-width="2.8" stroke-linejoin="round" stroke-linecap="round"/>
<path d="M546.7,661.7 L554.1,661.7 M550.4,658.0 L550.4,665.4" stroke="#9aa8cc" stroke-width="0.8" fill="none"/>
<path d="M593.6,652.7 L601.0,652.7 M597.3,649.0 L597.3,656.4" stroke="#9aa8cc" stroke-width="0.8" fill="none"/>
<path d="M640.5,534.2 L647.9,534.2 M644.2,530.5 L644.2,537.9" stroke="#9aa8cc" stroke-width="0.8" fill="none"/>
<path d="M687.5,494.4 L694.9,494.4 M691.2,490.7 L691.2,498.1" stroke="#9aa8cc" stroke-width="0.8" fill="none"/>
<path d="M734.4,461.5 L741.8,461.5 M738.1,457.8 L738.1,465.2" stroke="#9aa8cc" stroke-width="0.8" fill="none"/>
<path d="M781.3,484.4 L788.7,484.4 M785.0,480.7 L785.0,488.1" stroke="#9aa8cc" stroke-width="0.8" fill="none"/>
<path d="M828.3,610.9 L835.7,610.9 M832.0,607.2 L832.0,614.6" stroke="#9aa8cc" stroke-width="0.8" fill="none"/>
<path d="M875.2,640.8 L882.6,640.8 M878.9,637.1 L878.9,644.5" stroke="#9aa8cc" stroke-width="0.8" fill="none"/>
<path d="M922.1,668.7 L929.5,668.7 M925.8,665.0 L925.8,672.4" stroke="#9aa8cc" stroke-width="0.8" fill="none"/>
<polyline points="550.4,660.7 597.3,651.7 644.2,511.3 691.2,464.5 738.1,444.6 785.0,454.6 832.0,599.0 878.9,631.8 925.8,667.7" fill="none" stroke="#7fc0d4" stroke-width="2.8" stroke-linejoin="round" stroke-linecap="round"/>
<path d="M546.7,660.7 L554.1,660.7" stroke="#7fc0d4" stroke-width="1" fill="none"/>
<path d="M593.6,651.7 L601.0,651.7" stroke="#7fc0d4" stroke-width="1" fill="none"/>
<path d="M640.5,511.3 L647.9,511.3" stroke="#7fc0d4" stroke-width="1" fill="none"/>
<path d="M687.5,464.5 L694.9,464.5" stroke="#7fc0d4" stroke-width="1" fill="none"/>
<path d="M734.4,444.6 L741.8,444.6" stroke="#7fc0d4" stroke-width="1" fill="none"/>
<path d="M781.3,454.6 L788.7,454.6" stroke="#7fc0d4" stroke-width="1" fill="none"/>
<path d="M828.3,599.0 L835.7,599.0" stroke="#7fc0d4" stroke-width="1" fill="none"/>
<path d="M875.2,631.8 L882.6,631.8" stroke="#7fc0d4" stroke-width="1" fill="none"/>
<path d="M922.1,667.7 L929.5,667.7" stroke="#7fc0d4" stroke-width="1" fill="none"/>
<polyline points="550.4,660.7 597.3,650.7 644.2,509.3 691.2,462.5 738.1,442.6 785.0,452.6 832.0,597.0 878.9,630.8 925.8,666.7" fill="none" stroke="#f5a67d" stroke-width="2.8" stroke-linejoin="round" stroke-linecap="round"/>
<path d="M546.7,660.7 L554.1,660.7" stroke="#f5a67d" stroke-width="1" fill="none"/>
<path d="M593.6,650.7 L601.0,650.7" stroke="#f5a67d" stroke-width="1" fill="none"/>
<path d="M640.5,509.3 L647.9,509.3" stroke="#f5a67d" stroke-width="1" fill="none"/>
<path d="M687.5,462.5 L694.9,462.5" stroke="#f5a67d" stroke-width="1" fill="none"/>
<path d="M734.4,442.6 L741.8,442.6" stroke="#f5a67d" stroke-width="1" fill="none"/>
<path d="M781.3,452.6 L788.7,452.6" stroke="#f5a67d" stroke-width="1" fill="none"/>
<path d="M828.3,597.0 L835.7,597.0" stroke="#f5a67d" stroke-width="1" fill="none"/>
<path d="M875.2,630.8 L882.6,630.8" stroke="#f5a67d" stroke-width="1" fill="none"/>
<path d="M922.1,666.7 L929.5,666.7" stroke="#f5a67d" stroke-width="1" fill="none"/>
<line x1="965.5" x2="980.8" y1="399.8" y2="399.8" stroke="#f5a67d" stroke-width="2.6" stroke-linecap="round"/>
<path d="M970.0,399.8 L975.6,399.8" stroke="#f5a67d" stroke-width="1" fill="none"/>
<text x="982.6" y="402.7" font-size="7.8px" font-weight="500">三门峡</text>
<line x1="965.5" x2="980.8" y1="415.9" y2="415.9" stroke="#7fc0d4" stroke-width="2.6" stroke-linecap="round"/>
<path d="M970.0,415.9 L975.6,415.9" stroke="#7fc0d4" stroke-width="1" fill="none"/>
<text x="982.6" y="418.8" font-size="7.8px" font-weight="500">南阳</text>
<line x1="965.5" x2="980.8" y1="432.1" y2="432.1" stroke="#9588b5" stroke-width="2.6" stroke-linecap="round"/>
<path d="M970.0,432.1 L975.6,432.1 M972.8,429.3 L972.8,434.9" stroke="#9aa8cc" stroke-width="0.8" fill="none"/>
<text x="982.6" y="435.0" font-size="7.8px" font-weight="500">济源</text>
<line x1="965.5" x2="980.8" y1="448.2" y2="448.2" stroke="#a9c77b" stroke-width="2.6" stroke-linecap="round"/>
<circle cx="972.8" cy="448.2" r="2.5" fill="#a9a9a9"/>
<text x="982.6" y="451.1" font-size="7.8px" font-weight="500">商丘</text>
<line x1="965.5" x2="980.8" y1="464.3" y2="464.3" stroke="#d17f7d" stroke-width="2.6" stroke-linecap="round"/>
<path d="M970.0,461.5 L975.6,467.1 M975.6,461.5 L970.0,467.1 M972.8,461.5 L972.8,467.1" stroke="#d88a94" stroke-width="0.8" fill="none"/>
<text x="982.6" y="467.2" font-size="7.8px" font-weight="500">驻马店</text>
<line x1="965.5" x2="980.8" y1="480.4" y2="480.4" stroke="#7c9fd6" stroke-width="2.6" stroke-linecap="round"/>
<path d="M970.0,477.6 L975.6,483.2 M975.6,477.6 L970.0,483.2" stroke="#8aa5d6" stroke-width="0.8" fill="none"/>
<text x="982.6" y="483.3" font-size="7.8px" font-weight="500">许昌</text>
<line x1="965.5" x2="980.8" y1="496.6" y2="496.6" stroke="#f59240" stroke-width="2.6" stroke-linecap="round"/>
<path d="M972.8,493.8 L975.6,498.8 L970.0,498.8Z" fill="#e58a3a"/>
<text x="982.6" y="499.5" font-size="7.8px" font-weight="500">漯河</text>
<line x1="965.5" x2="980.8" y1="512.7" y2="512.7" stroke="#46aac5" stroke-width="2.6" stroke-linecap="round"/>
<rect x="970.4" y="510.3" width="4.8" height="4.8" fill="#3fa2bd"/>
<text x="982.6" y="515.6" font-size="7.8px" font-weight="500">周口</text>
<line x1="965.5" x2="980.8" y1="528.8" y2="528.8" stroke="#7d60a0" stroke-width="2.6" stroke-linecap="round"/>
<path d="M972.8,526.0 L975.6,528.8 L972.8,531.6 L970.0,528.8Z" fill="#6a4f9a"/>
<text x="982.6" y="531.7" font-size="7.8px" font-weight="500">信阳</text>
<line x1="965.5" x2="980.8" y1="545.0" y2="545.0" stroke="#98b954" stroke-width="2.6" stroke-linecap="round"/>
<path d="M970.0,545.0 L975.6,545.0" stroke="#98b954" stroke-width="1" fill="none"/>
<text x="982.6" y="547.9" font-size="7.8px" font-weight="500">安阳</text>
<line x1="965.5" x2="980.8" y1="561.1" y2="561.1" stroke="#be4b48" stroke-width="2.6" stroke-linecap="round"/>
<path d="M970.0,561.1 L975.6,561.1" stroke="#c98a88" stroke-width="1" fill="none"/>
<text x="982.6" y="564.0" font-size="7.8px" font-weight="500">新乡</text>
<line x1="965.5" x2="980.8" y1="577.2" y2="577.2" stroke="#4a7ebb" stroke-width="2.6" stroke-linecap="round"/>
<path d="M970.0,577.2 L975.6,577.2 M972.8,574.4 L972.8,580.0" stroke="#8fa6cf" stroke-width="0.8" fill="none"/>
<text x="982.6" y="580.1" font-size="7.8px" font-weight="500">鹤壁</text>
<line x1="965.5" x2="980.8" y1="593.4" y2="593.4" stroke="#d9823b" stroke-width="2.6" stroke-linecap="round"/>
<circle cx="972.8" cy="593.4" r="2.5" fill="#d9823b"/>
<text x="982.6" y="596.3" font-size="7.8px" font-weight="500">焦作</text>
<line x1="965.5" x2="980.8" y1="609.5" y2="609.5" stroke="#3c95ae" stroke-width="2.6" stroke-linecap="round"/>
<path d="M970.0,606.7 L975.6,612.3 M975.6,606.7 L970.0,612.3 M972.8,606.7 L972.8,612.3" stroke="#3c95ae" stroke-width="0.8" fill="none"/>
<text x="982.6" y="612.4" font-size="7.8px" font-weight="500">濮阳</text>
<line x1="965.5" x2="980.8" y1="625.6" y2="625.6" stroke="#6a5190" stroke-width="2.6" stroke-linecap="round"/>
<path d="M970.0,622.8 L975.6,628.4 M975.6,622.8 L970.0,628.4" stroke="#6a5190" stroke-width="0.8" fill="none"/>
<text x="982.6" y="628.5" font-size="7.8px" font-weight="500">平顶山</text>
<line x1="965.5" x2="980.8" y1="641.8" y2="641.8" stroke="#86a44a" stroke-width="2.6" stroke-linecap="round"/>
<path d="M972.8,639.0 L975.6,644.0 L970.0,644.0Z" fill="#86a44a"/>
<text x="982.6" y="644.6" font-size="7.8px" font-weight="500">洛阳</text>
<line x1="965.5" x2="980.8" y1="657.9" y2="657.9" stroke="#aa3f3c" stroke-width="2.6" stroke-linecap="round"/>
<rect x="970.4" y="655.5" width="4.8" height="4.8" fill="#aa3f3c"/>
<text x="982.6" y="660.8" font-size="7.8px" font-weight="500">开封</text>
<line x1="965.5" x2="980.8" y1="674.0" y2="674.0" stroke="#3a6ea5" stroke-width="2.6" stroke-linecap="round"/>
<path d="M972.8,671.2 L975.6,674.0 L972.8,676.8 L970.0,674.0Z" fill="#3a6ea5"/>
<text x="982.6" y="676.9" font-size="7.8px" font-weight="500">郑州</text>
<text x="550.4" y="694.7" font-size="7.6px" text-anchor="middle">0<tspan font-style="italic" font-weight="600">岁</tspan>-10<tspan font-style="italic" font-weight="600">岁</tspan></text>
<text x="597.3" y="694.7" font-size="7.6px" text-anchor="middle">11<tspan font-style="italic" font-weight="600">岁</tspan>-20<tspan font-style="italic" font-weight="600">岁</tspan></text>
<text x="644.2" y="694.7" font-size="7.6px" text-anchor="middle">21<tspan font-style="italic" font-weight="600">岁</tspan>-30<tspan font-style="italic" font-weight="600">岁</tspan></text>
<text x="691.2" y="694.7" font-size="7.6px" text-anchor="middle">31<tspan font-style="italic" font-weight="600">岁</tspan>-40<tspan font-style="italic" font-weight="600">岁</tspan></text>
<text x="738.1" y="694.7" font-size="7.6px" text-anchor="middle">41<tspan font-style="italic" font-weight="600">岁</tspan>-50<tspan font-style="italic" font-weight="600">岁</tspan></text>
<text x="785.0" y="694.7" font-size="7.6px" text-anchor="middle">51<tspan font-style="italic" font-weight="600">岁</tspan>-60<tspan font-style="italic" font-weight="600">岁</tspan></text>
<text x="832.0" y="694.7" font-size="7.6px" text-anchor="middle">61<tspan font-style="italic" font-weight="600">岁</tspan>-70<tspan font-style="italic" font-weight="600">岁</tspan></text>
<text x="878.9" y="694.7" font-size="7.6px" text-anchor="middle">71<tspan font-style="italic" font-weight="600">岁</tspan>-80<tspan font-style="italic" font-weight="600">岁</tspan></text>
<text x="925.8" y="694.7" font-size="7.6px" text-anchor="middle">81<tspan font-style="italic" font-weight="600">岁</tspan>—</text>
</g>
</svg></body></html>
